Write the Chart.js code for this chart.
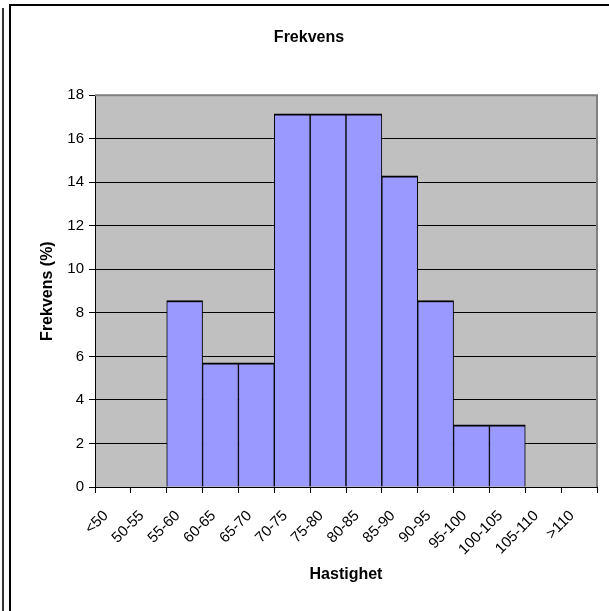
<!DOCTYPE html>
<html>
<head>
<meta charset="utf-8">
<script src="https://cdn.jsdelivr.net/npm/chart.js@4.4.0/dist/chart.umd.min.js"></script>
<style>
  html, body { margin: 0; padding: 0; background: #fff; overflow: hidden; }
  body { width: 609px; height: 611px; position: relative; }
  .frame { position: absolute; left: 9px; top: 4px; width: 640px; height: 640px;
           border-left: 2px solid #000; border-top: 2px solid #000; }
  .edge { position: absolute; left: 2px; top: 8px; width: 2px; height: 640px; background: #333; }
  .wrap { position: absolute; left: 11px; top: 0; width: 608px; height: 611px; }
</style>
</head>
<body>
<div class="edge"></div>
<div class="frame"></div>
<div class="wrap"><canvas id="myChart"></canvas></div>
<script>
const categories = ['<50', '50-55', '55-60', '60-65', '65-70', '70-75', '75-80', '80-85',
                    '85-90', '90-95', '95-100', '100-105', '105-110', '>110'];
const frekvens = [0, 0, 8.57, 5.71, 5.71, 17.14, 17.14, 17.14, 14.29, 8.57, 2.86, 2.86, 0, 0];
const yTicks = [0, 2, 4, 6, 8, 10, 12, 14, 16, 18];

const FONT = '"Liberation Sans", Arial, sans-serif';

// gray plot background + gray right border, like the old Excel chart
const plotBg = {
    id: 'plotBg',
    beforeDraw(chart) {
        const a = chart.chartArea, c = chart.ctx;
        c.save();
        c.fillStyle = '#C0C0C0';
        c.fillRect(a.left, a.top, a.right - a.left, a.bottom - a.top);
        c.restore();
    },
    afterDraw(chart) {
        const a = chart.chartArea, c = chart.ctx;
        c.save();
        c.strokeStyle = '#808080';
        c.lineWidth = 2;
        c.beginPath();
        c.moveTo(a.left, a.top);
        c.lineTo(a.right, a.top);
        c.lineTo(a.right, a.bottom);
        c.stroke();
        c.restore();
    }
};

document.addEventListener('DOMContentLoaded', () => {
    const ctx = document.getElementById('myChart').getContext('2d');
    new Chart(ctx, {
        type: 'bar',
        data: {
            labels: categories,
            datasets: [{
                label: 'Frekvens',
                data: frekvens,
                backgroundColor: '#9999FF',
                borderColor: '#000',
                borderWidth: { top: 2, left: 1, right: 1, bottom: 0 },
                barPercentage: 1,
                categoryPercentage: 1
            }]
        },
        options: {
            responsive: true,
            maintainAspectRatio: false,
            animation: false,
            layout: { padding: { left: 10, right: 22, top: 0, bottom: 10 } },
            plugins: {
                legend: { display: false },
                tooltip: { enabled: false },
                title: {
                    display: true,
                    text: 'Frekvens',
                    color: '#000',
                    font: { family: FONT, size: 16, weight: 'bold' },
                    padding: { top: 28, bottom: 48 }
                }
            },
            scales: {
                x: {
                    offset: true,
                    grid: { offset: true, drawOnChartArea: false, color: '#000', tickColor: '#000', tickLength: 6 },
                    border: { color: '#000', width: 1 },
                    ticks: {
                        color: '#000',
                        font: { family: FONT, size: 15 },
                        maxRotation: 45, minRotation: 45,
                        autoSkip: false,
                        labelOffset: -7,
                        padding: 14
                    },
                    title: {
                        display: true,
                        text: 'Hastighet',
                        color: '#000',
                        font: { family: FONT, size: 16, weight: 'bold' },
                        padding: { top: 0, bottom: 17 }
                    },
                    afterFit(scale) { scale.height = 114; }
                },
                y: {
                    min: 0, max: 18,
                    afterBuildTicks(scale) { scale.ticks = yTicks.map(v => ({ value: v })); },
                    grid: {
                        color: c => (c.tick && c.tick.value === 18) ? '#808080' : '#000',
                        tickColor: '#000',
                        tickLength: 6
                    },
                    border: { color: '#000', width: 1 },
                    ticks: {
                        color: '#000',
                        font: { family: FONT, size: 15 },
                        padding: 5
                    },
                    title: {
                        display: true,
                        text: 'Frekvens (%)',
                        color: '#000',
                        font: { family: FONT, size: 16, weight: 'bold' },
                        padding: { top: 17, bottom: 0 }
                    },
                    afterFit(scale) { scale.width = 74; }
                }
            }
        },
        plugins: [plotBg]
    });
});
</script>
</body>
</html>
